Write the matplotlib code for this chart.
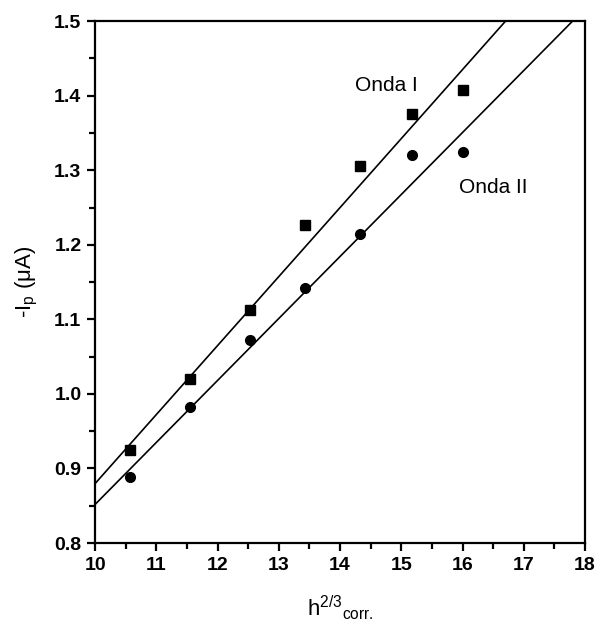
import matplotlib
matplotlib.use("Agg")
import matplotlib.pyplot as plt
import numpy as np
from matplotlib.ticker import MultipleLocator, FormatStrFormatter

plt.rcParams['font.family'] = ['Liberation Sans', 'DejaVu Sans']
plt.rcParams['mathtext.fontset'] = 'custom'
plt.rcParams['mathtext.rm'] = 'Liberation Sans'
plt.rcParams['mathtext.it'] = 'Liberation Sans'

# data
h_corr = [10.57, 11.55, 12.52, 13.42, 14.32, 15.18, 16.0]
onda1 = [0.925, 1.020, 1.112, 1.226, 1.306, 1.375, 1.408]
onda2 = [0.888, 0.982, 1.072, 1.142, 1.215, 1.320, 1.325]
# fitted lines: value at x=10, slope
fit_intercept = [0.880, 0.852]
fit_slope = [0.0925, 0.0831]
labels = ["Onda I", "Onda II"]
label_pos = [(14.25, 1.414), (15.95, 1.277)]

fig = plt.figure(figsize=(6.03, 6.22), dpi=100)
ax = fig.add_axes([0.158, 0.127, 0.812, 0.839])

xl = np.array([10.0, 18.0])
for b, m in zip(fit_intercept, fit_slope):
    ax.plot(xl, b + m * (xl - 10.0), color='black', lw=1.2)

ax.plot(h_corr, onda1, 's', color='black', ms=6.5)
ax.plot(h_corr, onda2, 'o', color='black', ms=7)

for t, (x, y) in zip(labels, label_pos):
    ax.text(x, y, t, fontsize=15, ha='left', va='center')

ax.set_xlim(10, 18)
ax.set_ylim(0.8, 1.5)
ax.xaxis.set_major_locator(MultipleLocator(1))
ax.xaxis.set_minor_locator(MultipleLocator(0.5))
ax.yaxis.set_major_locator(MultipleLocator(0.1))
ax.yaxis.set_minor_locator(MultipleLocator(0.05))
ax.yaxis.set_major_formatter(FormatStrFormatter('%.1f'))
ax.tick_params(which='both', direction='out', top=False, right=False, width=1.6)
ax.tick_params(which='major', length=6, labelsize=14, pad=4)
ax.tick_params(which='minor', length=4)
for lab in ax.get_xticklabels() + ax.get_yticklabels():
    lab.set_fontweight('bold')
for s in ax.spines.values():
    s.set_linewidth(1.6)

ax.set_xlabel(r'h$^{2/3}{}_{\mathrm{corr.}}$', fontsize=16, labelpad=14)
ax.set_ylabel(r'-I$_\mathrm{p}$ (μA)', fontsize=16, labelpad=10)

fig.savefig('out.png', dpi=100)
